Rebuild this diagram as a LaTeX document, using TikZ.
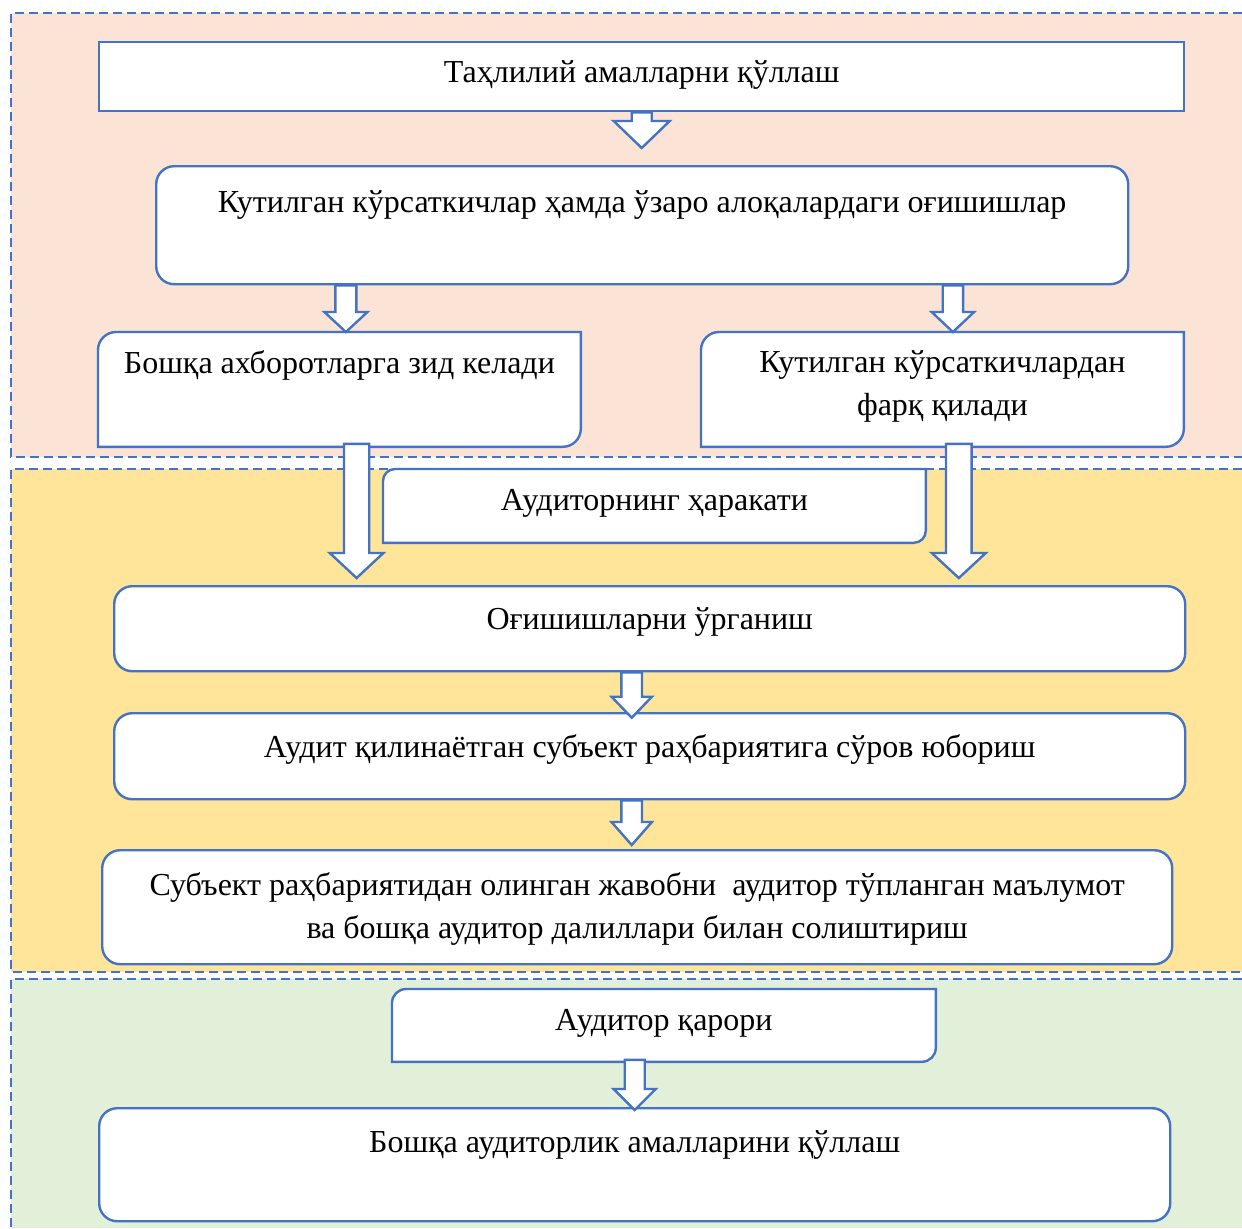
\documentclass[tikz,border=0pt]{standalone}
\usepackage{fontspec}
\setmainfont{Liberation Serif}
\usetikzlibrary{calc}
\definecolor{boxblue}{HTML}{4472C4}
\definecolor{peach}{HTML}{FBE4D5}
\definecolor{sand}{HTML}{FFE599}
\definecolor{sage}{HTML}{E2EFD9}
\newcommand{\boxfont}{\fontsize{16}{21.5}\selectfont}
\pgfdeclarelayer{background}
\pgfdeclarelayer{boxlayer}
\pgfsetlayers{background,boxlayer,main}
%% box with round top-left and bottom-right corners
\newcommand{\cornerbox}[2]{%
  \filldraw[boxline] ([yshift=-#2]#1.north west) arc[start angle=180,end angle=90,radius=#2]
    -- (#1.north east) -- ([yshift=#2]#1.south east) arc[start angle=0,end angle=-90,radius=#2]
    -- (#1.south west) -- cycle;}
%% hollow block arrow: x from #1, start #2, tip #3, shaft half, head half, head length
\newcommand{\blockarrow}[6]{%
  \draw[arrowbox] let \p1=(#1), \p2=(#2), \p3=(#3) in
    (\x1-#4,\y2) -- (\x1-#4,\y3+#6) -- (\x1-#5,\y3+#6) -- (\x1,\y3)
    -- (\x1+#5,\y3+#6) -- (\x1+#4,\y3+#6) -- (\x1+#4,\y2) -- cycle;}
\tikzset{
  panel/.style={draw=boxblue,line width=1.2pt,dash pattern=on 4.5pt off 2.5pt},
  box/.style={anchor=north west,inner sep=0pt,align=center,font=\boxfont},
  plainbox/.style={box,draw=boxblue,line width=1.2pt,fill=white},
  roundbox/.style={plainbox,rounded corners=9pt},
  boxline/.style={draw=boxblue,line width=1.2pt,fill=white},
  arrowbox/.style={draw=boxblue,line width=1.2pt,fill=white,line join=miter}
}
\begin{document}
\begin{tikzpicture}[x=0.5pt,y=-0.5pt]
    \useasboundingbox (0,0) rectangle (1242,1228);
    %% panels
    \begin{pgfonlayer}{background}
        \fill[peach] (11,13) rectangle (1242,457);
        \draw[panel] (1242,13) -- (11,13) -- (11,457) -- (1242,457);
        \fill[sand] (11,469) rectangle (1242,972);
        \draw[panel] (1242,469) -- (11,469) -- (11,972) -- (1242,972);
        \fill[sage] (11,979) rectangle (1242,1228);
        \draw[panel] (1242,979) -- (11,979) -- (11,1228);
    \end{pgfonlayer}
    %% boxes
    \node[plainbox,minimum width=542.5pt,text height=20pt,text depth=14.5pt] (b1) at (98,41)
        {Таҳлилий амалларни қўллаш};
    \node[roundbox,minimum width=486pt,text height=23pt,text depth=36pt] (b2) at (155,165)
        {Кутилган кўрсаткичлар ҳамда ўзаро алоқалардаги оғишишлар};
    \node[box,minimum width=241pt,text height=20.5pt,text depth=36.5pt] (b3) at (98,332)
        {Бошқа ахборотларга зид келади};
    \node[box,minimum width=241pt,text height=41.5pt,text depth=15.5pt] (b4) at (701,332)
        {Кутилган кўрсаткичлардан\\фарқ қилади};
    \node[box,minimum width=271pt,text height=20.5pt,text depth=16pt] (b5) at (383,469)
        {Аудиторнинг ҳаракати};
    \node[roundbox,minimum width=535.5pt,text height=21.5pt,text depth=21pt] (b6) at (113,585)
        {Оғишишларни ўрганиш};
    \node[roundbox,minimum width=535.5pt,text height=22pt,text depth=21pt] (b7) at (113,712)
        {Аудит қилинаётган субъект раҳбариятига сўров юбориш};
    \node[roundbox,minimum width=535pt,text height=44pt,text depth=13pt] (b8) at (101,849)
        {Субъект раҳбариятидан олинган жавобни\ \ аудитор тўпланган маълумот\\ва бошқа аудитор далиллари билан солиштириш};
    \node[box,minimum width=271.5pt,text height=20.5pt,text depth=15.5pt] (b9) at (392,989)
        {Аудитор қарори};
    \node[roundbox,minimum width=535.5pt,text height=22pt,text depth=34.5pt] (b10) at (98,1107)
        {Бошқа аудиторлик амалларини қўллаш};
    \begin{pgfonlayer}{boxlayer}
        \cornerbox{b3}{9pt}
        \cornerbox{b4}{9pt}
        \cornerbox{b5}{6pt}
        \cornerbox{b9}{7pt}
    \end{pgfonlayer}
    %% arrows
    \blockarrow{b1.south}{b1.south}{[yshift=8.5pt]b2.north}{5pt}{14pt}{13.5pt}
    \blockarrow{[xshift=3.25pt]b3.north}{b2.south}{b3.north}{5.25pt}{10.75pt}{10pt}
    \blockarrow{[xshift=5.25pt]b4.north}{b2.south}{b4.north}{5.1pt}{10.6pt}{10pt}
    \blockarrow{[xshift=8.6pt]b3.south}{[yshift=1.5pt]b3.south}{[yshift=3.5pt]b6.north}{6.3pt}{13.4pt}{12.5pt}
    \blockarrow{[xshift=8.2pt]b4.south}{[yshift=1.5pt]b4.south}{[yshift=3.5pt]b6.north}{6.4pt}{13.5pt}{12.5pt}
    \blockarrow{[xshift=-9pt]b6.south}{b6.south}{[yshift=-2.85pt]b7.north}{5.15pt}{10.1pt}{10.5pt}
    \blockarrow{[xshift=-9pt]b7.south}{b7.south}{[yshift=2pt]b8.north}{5.15pt}{10.1pt}{11.5pt}
    \blockarrow{b10.north}{[yshift=1pt]b9.south}{[yshift=-1.5pt]b10.north}{5pt}{10.5pt}{10.5pt}
\end{tikzpicture}
\end{document}
